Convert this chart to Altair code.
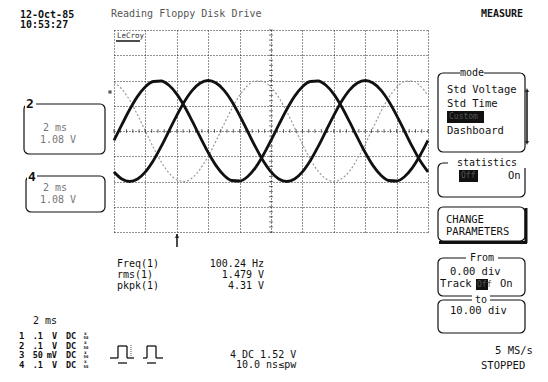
import altair as alt
import pandas as pd

# ---------------- data (x in divisions, 2 ms/div; y in divisions) ----------------
t_div = [0.0, 0.25, 0.5, 0.75, 1.0, 1.25, 1.5, 1.75, 2.0, 2.25, 2.5, 2.75, 3.0, 3.25, 3.5, 3.75,
         4.0, 4.25, 4.5, 4.75, 5.0, 5.25, 5.5, 5.75, 6.0, 6.25, 6.5, 6.75, 7.0, 7.25, 7.5, 7.75,
         8.0, 8.25, 8.5, 8.75, 9.0, 9.25, 9.5, 9.75, 10.0]
ch1 = [-0.37, 0.25, 0.85, 1.37, 1.75, 1.96, 1.98, 1.81, 1.46, 0.96, 0.37, -0.25, -0.85, -1.37, -1.75, -1.96,
       -1.98, -1.81, -1.46, -0.96, -0.37, 0.25, 0.85, 1.37, 1.75, 1.96, 1.98, 1.81, 1.46, 0.96, 0.37, -0.25,
       -0.85, -1.37, -1.75, -1.96, -1.98, -1.81, -1.46, -0.96, -0.37]
ch2 = [-1.62, -1.90, -2.00, -1.90, -1.62, -1.18, -0.62, 0.00, 0.62, 1.18, 1.62, 1.90, 2.00, 1.90, 1.62, 1.18,
       0.62, 0.00, -0.62, -1.18, -1.62, -1.90, -2.00, -1.90, -1.62, -1.18, -0.62, 0.00, 0.62, 1.18, 1.62, 1.90,
       2.00, 1.90, 1.62, 1.18, 0.62, 0.00, -0.62, -1.18, -1.62]
ch3 = [1.93, 1.66, 1.22, 0.64, 0.00, -0.64, -1.22, -1.66, -1.93, -2.00, -1.85, -1.50, -1.00, -0.39, 0.26, 0.88,
       1.41, 1.79, 1.98, 1.96, 1.73, 1.32, 0.77, 0.13, -0.52, -1.11, -1.59, -1.89, -2.00, -1.89, -1.59, -1.11,
       -0.52, 0.13, 0.77, 1.32, 1.73, 1.96, 1.98, 1.79, 1.41]

# screen texts
date_txt, time_txt = "12-Oct-85", "10:53:27"
title_txt = "Reading Floppy Disk Drive"
menu_txt = "MEASURE"
meas_names = ["Freq(1)", "rms(1)", "pkpk(1)"]
meas_values = ["100.24 Hz", "1.479 V", "4.31 V"]
timebase = "2 ms"
ch_nums = ["1", "2", "3", "4"]
ch_scale = [".1", ".1", "50", ".1"]
ch_unit = ["V", "V", "mV", "V"]
ch_coupling = ["DC", "DC", "DC", "DC"]
trig_lines = ["4 DC 1.52 V", "10.0 ns\u2264pw"]
zoom_labels = ["2 ms", "1.08 V"]
mode_items = ["Std Voltage", "Std Time", "Custom", "Dashboard"]
sample_rate = "5 MS/s"
status = "STOPPED"

# ---------------- layout helpers (page pixels -> plot units) ----------------
PLOT_W, PLOT_H = 314, 202
OX, OY = 114, 30
XS = alt.Scale(domain=[0, 10], nice=False, zero=False)
YS = alt.Scale(domain=[-4, 4], nice=False, zero=False)
AX_X = alt.Axis(values=list(range(0, 11)), grid=True, labels=False, ticks=False, domain=False, title=None,
                gridDash=[1, 2], gridColor="#222222", gridWidth=1, gridOpacity=1)
AX_Y = alt.Axis(values=list(range(-4, 5)), grid=True, labels=False, ticks=False, domain=False, title=None,
                gridDash=[1, 2], gridColor="#222222", gridWidth=1, gridOpacity=1)


def ux(p):
    return (p - OX) / (PLOT_W / 10)


def uy(p):
    return 4 - (p - OY) / (PLOT_H / 8)


def ex(f="x"):
    return alt.X(f"{f}:Q", scale=XS, axis=AX_X)


def ey(f="y"):
    return alt.Y(f"{f}:Q", scale=YS, axis=AX_Y)


def texts(rows, **kw):
    df = pd.DataFrame(rows, columns=["px", "py", "text"])
    df["x"] = df["px"].map(ux)
    df["y"] = df["py"].map(uy)
    opts = dict(font="DejaVu Sans Mono", baseline="middle", align="left", fontSize=10, color="#111111")
    opts.update(kw)
    return alt.Chart(df).mark_text(**opts).encode(x=ex(), y=ey(), text="text:N")


def boxes(rows, **kw):
    df = pd.DataFrame(rows, columns=["p1", "q1", "p2", "q2"])
    df["x"] = df["p1"].map(ux)
    df["x2"] = df["p2"].map(ux)
    df["y"] = df["q1"].map(uy)
    df["y2"] = df["q2"].map(uy)
    return alt.Chart(df).mark_rect(**kw).encode(x=ex(), x2="x2:Q", y=ey(), y2="y2:Q")


def rules(rows, **kw):
    df = pd.DataFrame(rows, columns=["p1", "q1", "p2", "q2"])
    df["x"] = df["p1"].map(ux)
    df["x2"] = df["p2"].map(ux)
    df["y"] = df["q1"].map(uy)
    df["y2"] = df["q2"].map(uy)
    return alt.Chart(df).mark_rule(**kw).encode(x=ex(), x2="x2:Q", y=ey(), y2="y2:Q")


def points(rows, **kw):
    df = pd.DataFrame(rows, columns=["px", "py"])
    df["x"] = df["px"].map(ux)
    df["y"] = df["py"].map(uy)
    return alt.Chart(df).mark_point(**kw).encode(x=ex(), y=ey())


# ---------------- waveforms ----------------
wave = pd.DataFrame({"t": t_div * 3, "v": ch1 + ch2 + ch3,
                     "ch": ["1"] * len(t_div) + ["2"] * len(t_div) + ["3"] * len(t_div)})

faint = alt.Chart(wave[wave.ch == "3"]).mark_line(
    color="#9a9a9a", strokeWidth=1.2, strokeDash=[2, 2], interpolate="monotone"
).encode(x=ex("t"), y=ey("v"))

bold_waves = alt.Chart(wave[wave.ch != "3"]).mark_line(
    color="#111111", strokeWidth=2.8, interpolate="monotone"
).encode(x=ex("t"), y=ey("v"), detail="ch:N")

# centre graticule minor ticks
minor_x = pd.DataFrame({"x": [i / 5 for i in range(51)], "y": [0.0] * 51})
minor_y = pd.DataFrame({"x": [5.0] * 41, "y": [i / 5 - 4 for i in range(41)]})
tick_x = alt.Chart(minor_x).mark_point(shape="M0,-1L0,1", size=14, color="#222", strokeWidth=1, filled=False).encode(x=ex(), y=ey())
tick_y = alt.Chart(minor_y).mark_point(shape="M-1,0L1,0", size=14, color="#222", strokeWidth=1, filled=False).encode(x=ex(), y=ey())

# ---------------- panels ----------------
outline_boxes = boxes([
    (24, 104, 105, 154),    # channel 2 zoom box
    (26, 176, 105, 212),    # channel 4 zoom box
    (438, 73, 525, 152),    # mode
    (438, 163, 525, 197),   # statistics
    (438, 207, 525, 241),   # change parameters
    (438, 258, 525, 296),   # from
    (438, 300, 525, 333),   # to
], fill="white", stroke="#111111", strokeWidth=1.2, cornerRadius=5)

label_bg = boxes([
    (25, 98, 36, 111), (27, 170, 37, 183),
    (460, 68, 484, 78), (448, 158, 527, 168),
    (466, 253, 498, 263), (472, 295, 490, 305),
], fill="white", strokeWidth=0)

dark_boxes = boxes([
    (447, 111, 484, 123), (459, 170, 478, 182), (476, 279, 488, 290),
], fill="#111111", strokeWidth=0)

thick_edges = rules([
    (526, 208, 526, 243), (439, 242.5, 527, 242.5),
], color="#111111", strokeWidth=3)

misc_rules = rules([
    (116, 41, 140, 41),        # LeCroy underline
    (177, 234, 177, 247),      # trigger position marker
    (527, 90, 527, 143),       # scroll bar
], color="#111111", strokeWidth=1.5)

# pulse-width trigger icons
pulse_rules = rules([
    (110, 358, 118, 358), (118, 358, 118, 346), (118, 346, 127, 346), (127, 346, 127, 358),
    (127, 358, 134, 358),
    (143, 358, 147, 358), (147, 358, 147, 346), (147, 346, 156, 346), (156, 346, 156, 358),
    (156, 358, 163, 358),
    (118, 363, 127, 363), (147, 363, 156, 363),
], color="#111111", strokeWidth=1.3)
pulse_dots = rules([(131, 345, 131, 358)], color="#555555", strokeWidth=1, strokeDash=[1, 1])

tri_up = points([(177, 236), (527, 90)], shape="triangle-up", size=22, filled=True, color="#111111")
tri_dn = points([(527, 143)], shape="triangle-down", size=22, filled=True, color="#111111")
ground = points([(110, 92)], shape="square", size=10, filled=True, color="#111111")

# ---------------- text layers ----------------
t_header_bold = texts([(20, 14.5, date_txt), (20, 25, time_txt)], fontSize=10, fontWeight="bold")
t_title = texts([(111, 14, title_txt)], fontSize=10, color="#555555")
t_menu = texts([(481, 14, menu_txt)], fontSize=10, fontWeight="bold")
t_logo = texts([(117, 36, "LeCroy")], fontSize=7.5, color="#333333")

t_box_labels = texts([(26, 104, "2"), (28, 177, "4")], fontSize=13, fontWeight="bold")
t_zoom = texts([(43, 128, zoom_labels[0]), (40, 140, zoom_labels[1]),
                (43, 188, zoom_labels[0]), (40, 200, zoom_labels[1])], fontSize=10, color="#777777")

t_meas_names = texts([(117, 264 + 11 * i, n) for i, n in enumerate(meas_names)], fontSize=10)
t_meas_vals = texts([(264, 264 + 11 * i, v) for i, v in enumerate(meas_values)], fontSize=10, align="right")

rows_y = [336, 345.5, 355, 364.5]
t_tb = texts([(33, 321, timebase)], fontSize=10)
t_ch_num = texts([(19, rows_y[i], ch_nums[i]) for i in range(4)], fontSize=9, fontWeight="bold")
t_ch_scale = texts([(43, rows_y[i], ch_scale[i]) for i in range(4)], fontSize=8.5, align="right", fontWeight="bold")
t_ch_unit = texts([(57, rows_y[i], ch_unit[i]) for i in range(4)], fontSize=8.5, align="right", fontWeight="bold")
t_ch_coup = texts([(66, rows_y[i], ch_coupling[i]) for i in range(4)], fontSize=8.5, fontWeight="bold")
t_ch_x = texts([(84, rows_y[i] - 2.2, "x") for i in range(4)], fontSize=4.5, fontWeight="bold")
t_ch_50 = texts([(83.5, rows_y[i] + 2.4, "50") for i in range(4)], fontSize=4, fontWeight="bold")
t_trig = texts([(230, 355, trig_lines[0]), (236, 365, trig_lines[1])], fontSize=10)

t_panel_labels = texts([(472, 73, "mode"), (487, 163, "statistics"), (482, 258, "From"), (481, 300, "to")],
                       fontSize=10, align="center")
t_panel = texts([(447, 90, mode_items[0]), (447, 104, mode_items[1]), (447, 131, mode_items[3]),
                 (508, 176, "On"), (446, 220, "CHANGE"), (446, 232, "PARAMETERS"),
                 (450, 272, "0.00 div"), (440, 284, "Track"), (500, 284, "On"),
                 (450, 311, "10.00 div"), (495, 351, sample_rate), (481, 366, status)],
                fontSize=10.5)
t_hidden = texts([(449, 117, mode_items[2]), (461, 176, "Off"), (477, 284.5, "Off")], fontSize=8, color="#555555")

chart = alt.layer(
    faint, bold_waves, tick_x, tick_y,
    outline_boxes, label_bg, dark_boxes, thick_edges, misc_rules, pulse_rules, pulse_dots,
    tri_up, tri_dn, ground,
    t_header_bold, t_title, t_menu, t_logo, t_box_labels, t_zoom,
    t_meas_names, t_meas_vals, t_tb, t_ch_num, t_ch_scale, t_ch_unit, t_ch_coup, t_ch_x, t_ch_50,
    t_trig, t_panel_labels, t_panel, t_hidden,
).properties(
    width=PLOT_W, height=PLOT_H,
    autosize=alt.AutoSizeParams(type="none"),
    padding={"left": 106, "top": 22, "right": 112, "bottom": 142},
    background="white",
).configure_view(stroke=None)

chart.save("out.html", embed_options={"renderer": "svg", "actions": False})
